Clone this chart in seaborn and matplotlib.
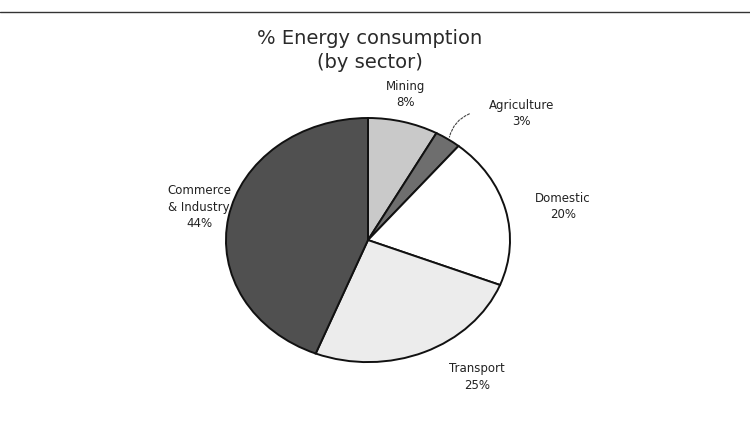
import numpy as np
import seaborn as sns
import matplotlib.pyplot as plt
from matplotlib.lines import Line2D

sectors = ['Mining', 'Agriculture', 'Domestic', 'Transport', 'Commerce\n& Industry']
shares = [8, 3, 20, 25, 44]
fills = ['#c9c9c9', '#6e6e6e', '#ffffff', '#ececec', '#505050']

# label distance / angle nudge per wedge (layout only)
label_r = [1.22, 1.50, 1.40, 1.36, 1.22]
label_nudge = [2, -12, -3, 11, -2]

sns.set_style('white')
plt.rcParams['font.family'] = ['DejaVu Sans']

fig = plt.figure(figsize=(7.5, 4.26), dpi=100)
ax = fig.add_axes([0.3013, 0.150, 0.3787, 0.573])

wedges, _ = ax.pie(shares, startangle=90, counterclock=False, colors=fills,
                   wedgeprops=dict(edgecolor='#111111', linewidth=1.4))
ax.set_aspect('auto')
ax.set_xlim(-1, 1)
ax.set_ylim(-1, 1)
ax.axis('off')

for w, name, val, r, d in zip(wedges, sectors, shares, label_r, label_nudge):
    mid = np.deg2rad((w.theta1 + w.theta2) / 2 + d)
    x, y = r * np.cos(mid), r * np.sin(mid)
    ax.text(x, y, f'{name}\n{val}%', ha='center', va='center', fontsize=8.5,
            color='#222222', linespacing=1.35)
    if name == 'Agriculture':
        # dashed leader from the thin wedge
        ang = np.deg2rad((w.theta1 + w.theta2) / 2)
        ax.annotate('', xy=(1.02 * np.cos(ang), 1.02 * np.sin(ang)),
                    xytext=(1.27 * np.cos(ang), 1.25 * np.sin(ang)),
                    arrowprops=dict(arrowstyle='-', linestyle=(0, (2, 1.5)),
                                    color='#444444', lw=0.8,
                                    shrinkA=0, shrinkB=0,
                                    connectionstyle='arc3,rad=0.25'))

fig.text(0.493, 1 - 38 / 426, '% Energy consumption', ha='center', va='center',
         fontsize=14, color='#2a2a2a')
fig.text(0.493, 1 - 62 / 426, '(by sector)', ha='center', va='center',
         fontsize=14, color='#2a2a2a')

fig.add_artist(Line2D([0, 1], [1 - 12 / 426, 1 - 12 / 426], color='#333333', lw=1))

fig.savefig('out.png', dpi=100)
